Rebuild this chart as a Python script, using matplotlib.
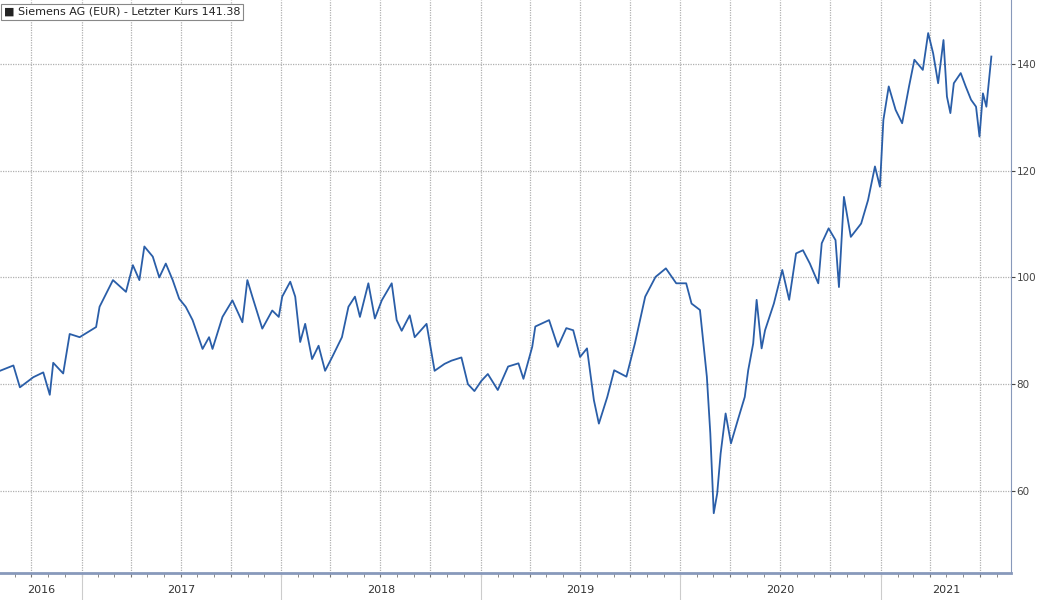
import numpy as np
import pandas as pd
import matplotlib.pyplot as plt
import matplotlib.dates as mdates
import matplotlib.transforms as mtransforms

# weeks since start date
start = pd.Timestamp('2016-08-05')
weeks = [0, 3.5, 5.2, 8.7, 11.3, 13, 13.9, 16.5, 18.2, 20.8, 25.1, 26, 29.5, 32.9, 34.7,
         36.4, 37.7, 39.9, 41.6, 43.3, 45.1, 46.8, 48.5, 50.3, 52.9, 54.6, 55.5, 58.1,
         60.7, 63.3, 64.6, 65.9, 68.5, 71.1, 72.8, 73.7, 75.8, 77.1, 78.4, 79.7, 81.5,
         83.2, 84.9, 86.7, 89.3, 91, 92.7, 94, 96.2, 97.9, 99.7, 102.3, 103.6, 104.9,
         107, 108.3, 111.4, 113.5, 116.1, 117.9, 120.5, 122.2, 123.9, 125.7, 127.4,
         130, 132.7, 135.4, 136.7, 139, 139.8, 143.4, 145.7, 147.9, 149.7, 151.5, 153.3,
         155.1, 156.4, 158.6, 160.4, 163.6, 165.8, 168.5, 171.2, 173.9, 176.6, 179.2,
         180.6, 182.8, 184.6, 185.5, 186.4, 187.3, 188.2, 189.5, 190.9, 192.7, 194.5,
         195.4, 196.7, 197.6, 198.9, 199.8, 202.1, 204.3, 206.1, 207.9, 209.7, 211.5,
         213.7, 214.6, 216.4, 218.2, 219.1, 220.4, 222.2, 224.9, 226.7, 228.5, 229.8,
         230.7, 232.1, 233.9, 235.6, 237.4, 238.8, 241, 242.4, 243.7, 245, 246.4, 247.3,
         248.2, 249.1, 250.9, 252.2, 253.6, 254.9, 255.8, 256.7, 257.6, 258.9]
prices = [82.5, 83.5, 79.4, 81.3, 82.2, 78, 84, 82, 89.4, 88.8, 90.7, 94.5, 99.5, 97.3, 102.3,
          99.5, 105.8, 103.9, 100, 102.6, 99.5, 96, 94.5, 92, 86.6, 88.8, 86.6, 92.6,
          95.7, 91.6, 99.5, 96.4, 90.4, 93.8, 92.6, 96.4, 99.2, 96.4, 87.9, 91.3, 84.7,
          87.2, 82.5, 85, 88.8, 94.5, 96.4, 92.6, 98.9, 92.3, 95.7, 98.9, 92, 90,
          92.9, 88.8, 91.3, 82.5, 83.8, 84.4, 85, 80, 78.7, 80.6, 81.9,
          78.9, 83.3, 83.9, 81, 87, 90.8, 92, 87, 90.5, 90.1, 85.1, 86.7,
          77, 72.6, 77.6, 82.6, 81.4, 87.6, 96.4, 100.1, 101.7, 98.9, 98.9,
          95.1, 93.9, 81.4, 70.8, 55.8, 59.5, 67, 74.5, 68.9, 73.3, 77.6,
          82.6, 87.6, 95.8, 86.7, 90.1, 95.1, 101.4, 95.8, 104.5, 105.1, 102.6,
          98.9, 106.4, 109.2, 107, 98.2, 115.1, 107.6, 110.1, 114.5, 120.8, 117,
          129.5, 135.8, 131.4, 128.9, 135.8, 140.8, 138.9, 145.8, 142, 136.4, 144.5, 133.9,
          130.8, 136.4, 138.3, 135.8, 133.3, 132, 126.4, 134.5, 132, 141.4]
years = [2016, 2017, 2018, 2019, 2020, 2021]

dates = [start + pd.Timedelta(weeks=w) for w in weeks]
xmin = start
xmax = start + pd.Timedelta(weeks=264)

fig = plt.figure(figsize=(10.4, 6.0), dpi=100)
ax = fig.add_axes([0.0, 0.045, 0.972, 0.955])
ax.plot(dates, prices, color='#2a5ea8', lw=1.3)
ax.set_xlim(xmin, xmax)
ax.set_ylim(44.6, 152)

ax.yaxis.tick_right()
ax.set_yticks([60, 80, 100, 120, 140])
ax.tick_params(axis='y', labelsize=7.5, colors='#444444', length=3, pad=1)
ax.xaxis.set_major_locator(mdates.MonthLocator(bymonth=[1, 4, 7, 10]))
ax.xaxis.set_minor_locator(mdates.MonthLocator())
ax.tick_params(axis='x', which='both', labelbottom=False, length=3, colors='#777777')
ax.grid(True, color='#b0b0b0', ls=(0, (1, 1)), lw=0.9)
for s in ['top', 'left']:
    ax.spines[s].set_visible(False)
ax.spines['bottom'].set_color('#8899bb')
ax.spines['bottom'].set_linewidth(2)
ax.spines['right'].set_color('#8899bb')

trans = mtransforms.blended_transform_factory(ax.transData, ax.transAxes)
lo = mdates.date2num(xmin)
hi = mdates.date2num(xmax)
for y in years:
    a = max(mdates.date2num(pd.Timestamp(f'{y}-01-01')), lo)
    b = min(mdates.date2num(pd.Timestamp(f'{y+1}-01-01')), hi)
    ax.text((a + b) / 2, -0.03, str(y), transform=trans, ha='center', va='center',
            fontsize=8, color='#333333')
    if y > 2016:
        ax.plot([a, a], [0, -0.047], transform=trans, color='#cccccc', lw=0.8, clip_on=False)

ax.text(0.004, 0.988, '\u25A0 Siemens AG (EUR) - Letzter Kurs 141.38', transform=ax.transAxes,
        fontsize=8, color='#222222', va='top', ha='left',
        bbox=dict(boxstyle='square,pad=0.25', fc='white', ec='#888888', lw=0.8))

fig.savefig('out.png', dpi=100)
